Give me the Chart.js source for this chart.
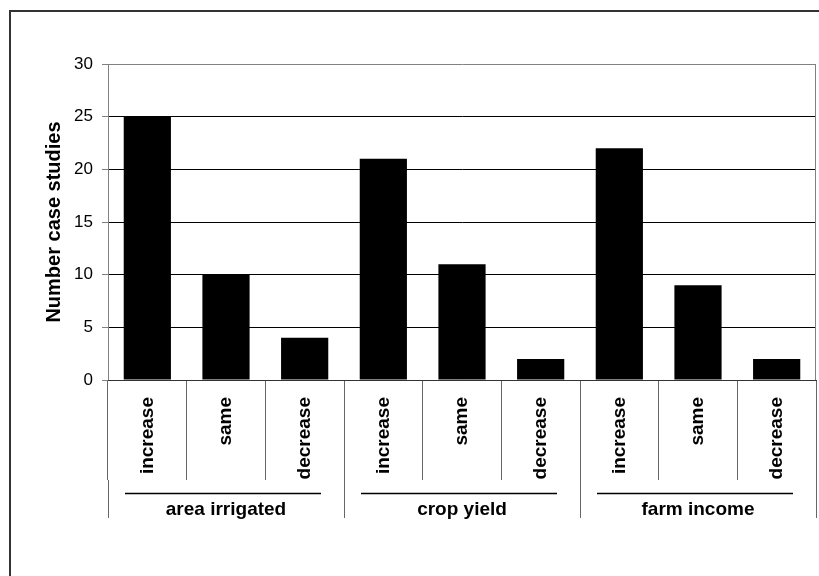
<!DOCTYPE html>
<html>
<head>
<meta charset="utf-8">
<script src="https://cdn.jsdelivr.net/npm/chart.js@4.4.1/dist/chart.umd.min.js"></script>
<style>
  html, body { margin: 0; padding: 0; background: #fff; overflow: hidden; width: 819px; height: 576px; }
  #frame { position: absolute; left: 9px; top: 10px; width: 900px; height: 700px; border: 2px solid #333; }
  #wrap { position: absolute; left: 0; top: 0; width: 819px; height: 576px; }
</style>
</head>
<body>
<div id="frame"></div>
<div id="wrap"><canvas id="c" width="819" height="576"></canvas></div>
<script>
// Outcome categories within each group
const outcomes = ['increase', 'same', 'decrease'];
// Groups shown along the bottom
const groups = ['area irrigated', 'crop yield', 'farm income'];
// Number of case studies per outcome
const areaIrrigated = [25, 10, 4];
const cropYield = [21, 11, 2];
const farmIncome = [22, 9, 2];
// Y axis ticks
const yMin = 0, yMax = 30, yStep = 5;

const categories = groups.flatMap(() => outcomes);
const counts = [...areaIrrigated, ...cropYield, ...farmIncome];

const FONT = "'Liberation Sans', Arial, sans-serif";

// Underlines beneath the group names and the right edge of the plot frame
const groupDecor = {
  id: 'groupDecor',
  afterDraw(chart) {
    const ctx = chart.ctx;
    const g = chart.scales.g;
    const area = chart.chartArea;
    const span = g.width / groups.length;
    ctx.save();
    ctx.strokeStyle = '#000';
    ctx.lineWidth = 1.4;
    for (let i = 0; i < groups.length; i++) {
      const cx = g.getPixelForTick(i);
      const y = Math.round(g.top + 13) + 0.5;
      ctx.beginPath();
      ctx.moveTo(cx - span / 2 + 17, y);
      ctx.lineTo(cx + span / 2 - 23, y);
      ctx.stroke();
    }
    ctx.strokeStyle = '#808080';
    ctx.lineWidth = 1;
    ctx.beginPath();
    ctx.moveTo(Math.round(area.right) - 0.5, area.top);
    ctx.lineTo(Math.round(area.right) - 0.5, area.bottom);
    ctx.stroke();
    ctx.restore();
  }
};

new Chart(document.getElementById('c'), {
  type: 'bar',
  data: {
    labels: categories,
    datasets: [{
      data: counts,
      backgroundColor: '#000',
      borderWidth: 0,
      barPercentage: 0.6,
      categoryPercentage: 1.0
    }]
  },
  options: {
    responsive: false,
    animation: false,
    devicePixelRatio: 1,
    layout: { padding: { left: 42, top: 64, right: 3, bottom: 0 } },
    plugins: { legend: { display: false }, tooltip: { enabled: false } },
    scales: {
      y: {
        min: yMin,
        max: yMax,
        ticks: {
          stepSize: yStep,
          color: '#000',
          padding: 9,
          font: { family: FONT, size: 17 }
        },
        grid: {
          color: (c) => (c.tick && c.tick.value === yMax ? '#808080' : '#000'),
          tickColor: '#808080',
          tickLength: 6,
          lineWidth: 1
        },
        border: { display: true, color: '#808080', width: 1 },
        title: {
          display: true,
          text: 'Number case studies',
          color: '#000',
          padding: { top: 0, bottom: 0 },
          font: { family: FONT, size: 20, weight: 'bold' }
        },
        afterFit(scale) { scale.width = 66; }
      },
      x: {
        offset: true,
        ticks: {
          autoSkip: false,
          minRotation: 90,
          maxRotation: 90,
          padding: -83,
          color: '#000',
          font: { family: FONT, size: 19, weight: 'bold' }
        },
        grid: {
          offset: true,
          drawOnChartArea: false,
          drawTicks: true,
          tickLength: 100,
          tickColor: '#666',
          lineWidth: 1
        },
        border: { display: true, color: '#333', width: 1 },
        afterFit(scale) { scale.height = 100; }
      },
      g: {
        type: 'category',
        position: 'bottom',
        labels: groups,
        offset: true,
        ticks: {
          autoSkip: false,
          maxRotation: 0,
          minRotation: 0,
          padding: -20,
          color: '#000',
          font: { family: FONT, size: 19, weight: 'bold' }
        },
        grid: {
          offset: true,
          drawOnChartArea: false,
          drawTicks: true,
          tickLength: 38,
          tickColor: '#666',
          lineWidth: 1
        },
        border: { display: false },
        afterFit(scale) { scale.height = 96; }
      }
    }
  },
  plugins: [groupDecor]
});
</script>
</body>
</html>
